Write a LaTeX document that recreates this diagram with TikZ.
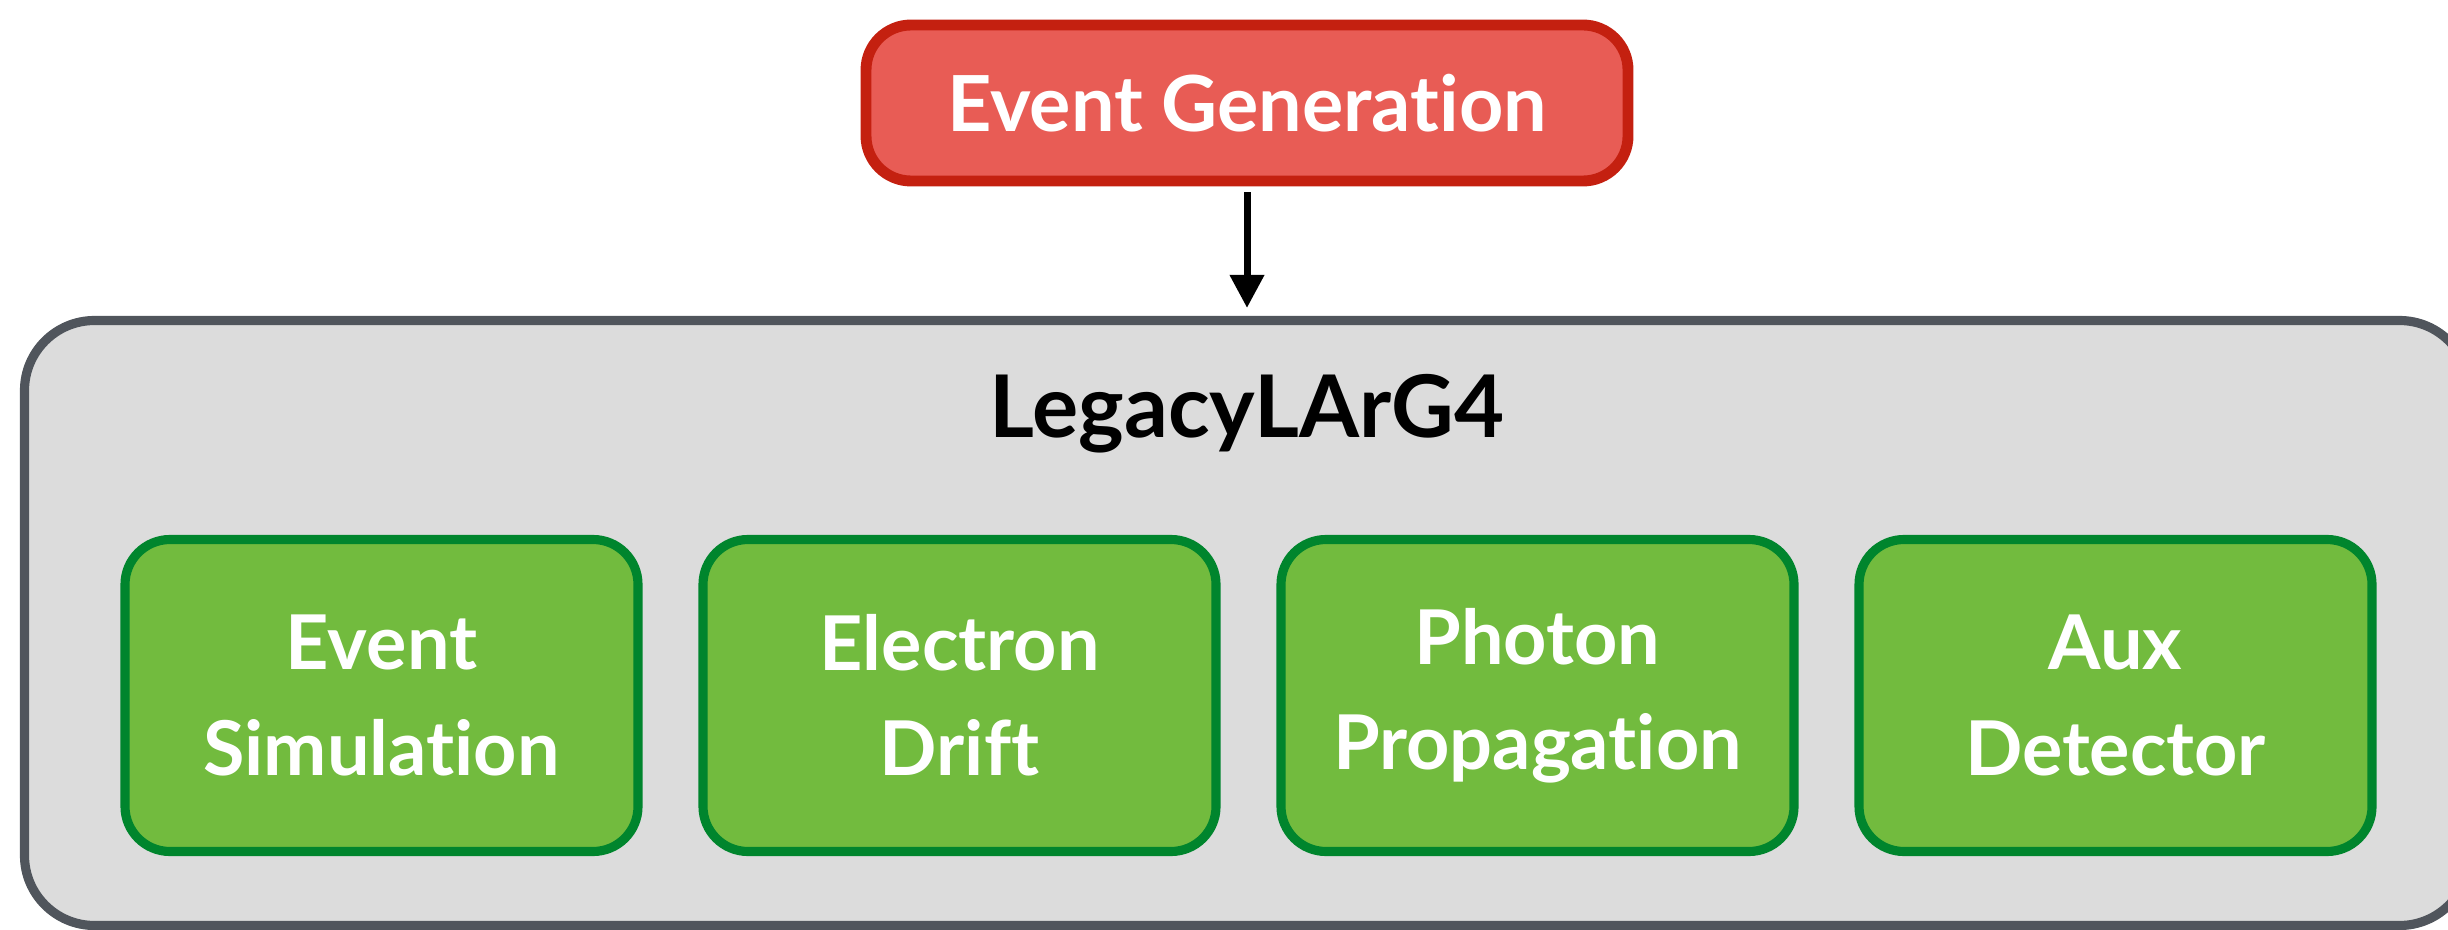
\documentclass[tikz,border=0pt]{standalone}
\usepackage{fontspec}
\setmainfont{Lato}
\usetikzlibrary{positioning,arrows.meta}
\definecolor{genfill}{HTML}{E85C55}
\definecolor{genline}{HTML}{C42010}
\definecolor{g4fill}{HTML}{DCDCDC}
\definecolor{g4line}{HTML}{50555C}
\definecolor{simfill}{HTML}{72BB3E}
\definecolor{simline}{HTML}{00852D}
% keeps t and i apart (no ligature)
\newcommand{\nolig}{\kern0pt }

\begin{document}
\begin{tikzpicture}
\tikzstyle{gen}=[rectangle, rounded corners=4.5mm, line width=3.1pt,
	draw=genline, fill=genfill, text=white, minimum width=7.62cm,
	minimum height=1.56cm, font=\fontsize{22}{26}\selectfont\bfseries
]
\tikzstyle{frame}=[rectangle, rounded corners=7mm, line width=2.6pt,
	draw=g4line, fill=g4fill, minimum width=24.45cm, minimum height=6.05cm
]
\tikzstyle{stage}=[rectangle, rounded corners=4.5mm, line width=2.6pt,
	draw=simline, fill=simfill, text=white, align=center,
	minimum width=5.13cm, minimum height=3.12cm, node distance=5.78cm,
	font=\fontsize{21.5}{30}\selectfont\bfseries
]
\tikzstyle{flow}=[line width=2pt, -{Triangle[length=3.3mm,width=3.3mm]},
	shorten <=0.6mm, shorten >=0.8mm
]
\useasboundingbox (0,0) rectangle (24.48,9.29);
\node[frame] (g4) at (12.47,3.06) {};
\node[font=\fontsize{24.6}{28}\selectfont\bfseries] (lbl) at (12.47,5.15) {LegacyLArG4};
\node[stage] (evsim) at (3.815,2.335) {Event\\Simulat\nolig ion};
\node[right of = evsim,stage] (drift) {Electron\\Drif\nolig t};
\node[right of = drift,stage] (photon) {Photon\\Propagat\nolig ion};
\node[right of = photon,stage] (aux) {Aux\\Detector};
\node[gen] (evgen) at (12.47,8.26) {Event Generat\nolig ion};
\draw[flow] (evgen) -- (g4);

\end{tikzpicture}
\end{document}
